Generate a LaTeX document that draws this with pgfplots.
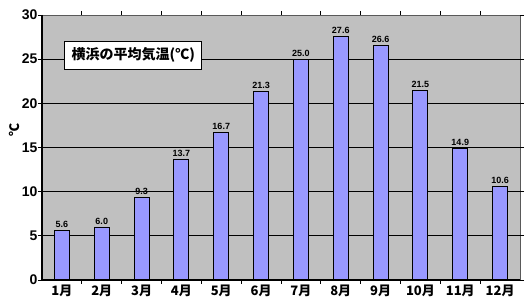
\documentclass[border=0pt]{standalone}
\usepackage{pgfplots}
\pgfplotsset{compat=1.18}
\usepackage{fontspec}
\setmainfont{Liberation Sans}
\newfontfamily\cjk{Noto Sans CJK JP}
\definecolor{barblue}{HTML}{9999FF}
\definecolor{bggray}{HTML}{C0C0C0}
\begin{document}
\begin{tikzpicture}
\useasboundingbox (-42pt,-24pt) rectangle (485pt,280pt);
\begin{axis}[
  at={(0,0)}, anchor=south west,
  scale only axis, width=478pt, height=265pt,
  xmin=0.5, xmax=12.5, ymin=0, ymax=30,
  axis background/.style={fill=bggray},
  axis line style={draw=gray!70!black, line width=0.6pt},
  xtick={1,...,12},
  xticklabels={1月,2月,3月,4月,5月,6月,7月,8月,9月,10月,11月,12月},
  minor xtick={1.5,2.5,...,11.5},
  ytick={0,5,...,30},
  ymajorgrids, grid style={black, line width=0.8pt},
  major tick length=0pt, minor tick length=4pt,
  tick align=outside,
  tick style={black, line width=0.8pt},
  x tick label style={font=\cjk\bfseries\fontsize{13}{13}\selectfont, yshift=-1pt},
  y tick label style={font=\bfseries\fontsize{14}{14}\selectfont, xshift=-1pt},
  /pgf/number format/assume math mode=true,
  extra y ticks={0,5,...,30}, extra y tick labels={},
  extra y tick style={major tick length=4pt, grid=none},
  ylabel={\cjk\bfseries\fontsize{13}{13}\selectfont ℃},
  ylabel style={at={(axis description cs:-0.058,0.566)}, anchor=center},
  axis on top=false,
  clip=false,
]
\addplot[ybar, bar width=15pt, fill=barblue, draw=black, line width=0.9pt,
  nodes near coords,
  nodes near coords style={font=\bfseries\fontsize{9}{9}\selectfont, black, yshift=-1pt,
    /pgf/number format/.cd, fixed, fixed zerofill, precision=1, assume math mode=true},
] coordinates {
(1,5.6) (2,6.0) (3,9.3) (4,13.7) (5,16.7) (6,21.3) (7,25.0) (8,27.6) (9,26.6) (10,21.5) (11,14.9) (12,10.6)
};
\draw[black, line width=1.1pt] (rel axis cs:0,1) -- (rel axis cs:0,0) -- (rel axis cs:1,0);
\node[draw=black, line width=0.9pt, fill=white, minimum width=137pt, minimum height=28pt, inner sep=0pt,
  font=\cjk\bfseries\fontsize{14}{14}\selectfont] at (rel axis cs:0.191,0.849) {横浜の平均気温(℃)};
\end{axis}
\end{tikzpicture}
\end{document}
